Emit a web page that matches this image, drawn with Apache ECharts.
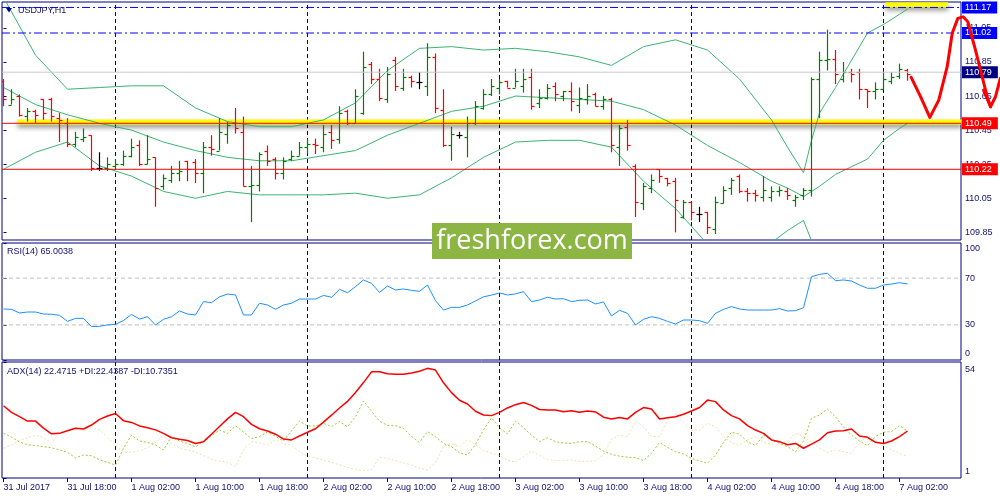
<!DOCTYPE html>
<html>
<head>
<meta charset="utf-8">
<title>USDJPY,H1</title>
<script src="https://cdn.jsdelivr.net/npm/echarts@6/dist/echarts.min.js"></script>
<style>
html,body{margin:0;padding:0;background:#fff}
#chart{width:1000px;height:500px}
</style>
</head>
<body>
<div id="chart"></div>
<script>
// hourly bars, index 0 = 31 Jul 10:00, last = 7 Aug 03:00
var open = [
110.74,110.60,110.65,110.53,110.56,110.63,110.63,110.52,110.49,110.37,
110.40,110.42,110.23,110.23,110.24,110.25,110.30,110.36,110.25,110.29,
110.12,110.16,110.20,110.27,110.26,110.20,110.35,110.33,110.43,110.49,
110.44,110.12,110.13,110.33,110.28,110.20,110.28,110.30,110.35,110.37,
110.35,110.44,110.40,110.56,110.49,110.55,110.84,110.75,110.63,110.86,
110.70,110.76,110.73,110.71,110.88,110.57,110.36,110.42,110.41,110.49,
110.58,110.66,110.70,110.74,110.70,110.71,110.76,110.61,110.64,110.71,
110.65,110.68,110.60,110.63,110.66,110.59,110.63,110.35,110.47,110.24,
110.02,110.11,110.22,110.17,110.15,109.94,110.03,109.96,109.97,109.87,
110.02,110.11,110.18,110.09,110.08,110.06,110.06,110.09,110.09,110.04,
110.07,110.10,110.75,110.86,110.87,110.75,110.79,110.79,110.69,110.68,
110.69,110.74,110.77,110.80];
var high = [
110.75,110.69,110.66,110.58,110.57,110.63,110.64,110.55,110.52,110.44,
110.46,110.42,110.32,110.29,110.28,110.33,110.40,110.39,110.42,110.29,
110.19,110.24,110.27,110.27,110.28,110.38,110.42,110.52,110.50,110.58,
110.53,110.24,110.32,110.36,110.29,110.29,110.33,110.38,110.40,110.40,
110.48,110.48,110.59,110.57,110.69,110.91,110.85,110.81,110.82,110.88,
110.81,110.77,110.79,110.96,110.90,110.69,110.47,110.44,110.53,110.62,
110.69,110.75,110.75,110.74,110.81,110.81,110.81,110.69,110.72,110.73,
110.68,110.73,110.70,110.72,110.67,110.65,110.64,110.48,110.51,110.25,
110.14,110.19,110.22,110.17,110.17,110.04,110.03,110.00,109.97,110.06,
110.12,110.17,110.19,110.11,110.10,110.18,110.12,110.12,110.11,110.07,
110.11,110.76,110.91,111.04,110.92,110.85,110.81,110.81,110.69,110.73,
110.79,110.79,110.84,110.81];
var low = [
110.59,110.60,110.53,110.50,110.49,110.51,110.50,110.38,110.35,110.35,
110.38,110.21,110.21,110.21,110.22,110.24,110.29,110.24,110.25,110.00,
110.10,110.14,110.15,110.15,110.14,110.08,110.30,110.33,110.37,110.43,
110.12,109.91,110.09,110.24,110.16,110.16,110.27,110.30,110.31,110.31,
110.32,110.34,110.37,110.48,110.49,110.54,110.72,110.62,110.61,110.68,
110.68,110.70,110.69,110.65,110.55,110.35,110.27,110.40,110.29,110.48,
110.57,110.65,110.66,110.70,110.70,110.67,110.57,110.58,110.63,110.62,
110.62,110.56,110.55,110.60,110.59,110.57,110.32,110.24,110.33,109.94,
109.98,110.08,110.14,110.12,109.85,109.93,109.92,109.91,109.84,109.84,
110.02,110.07,110.08,110.03,110.03,110.03,110.03,110.06,110.04,110.00,
110.04,110.06,110.52,110.80,110.72,110.73,110.73,110.63,110.58,110.63,
110.69,110.72,110.75,110.74];
var close = [
110.63,110.63,110.54,110.56,110.54,110.55,110.53,110.51,110.37,110.41,
110.41,110.23,110.23,110.25,110.25,110.30,110.35,110.25,110.28,110.11,
110.17,110.20,110.21,110.22,110.20,110.35,110.34,110.44,110.48,110.46,
110.12,110.13,110.31,110.27,110.20,110.27,110.30,110.35,110.37,110.36,
110.43,110.39,110.55,110.49,110.65,110.82,110.75,110.64,110.78,110.71,
110.76,110.74,110.73,110.88,110.58,110.36,110.43,110.42,110.49,110.59,
110.66,110.71,110.73,110.70,110.74,110.75,110.59,110.64,110.70,110.66,
110.68,110.62,110.64,110.65,110.59,110.63,110.36,110.46,110.36,110.03,
110.12,110.16,110.18,110.14,110.04,110.03,109.97,109.96,109.88,110.03,
110.10,110.16,110.09,110.08,110.07,110.10,110.09,110.10,110.07,110.06,
110.10,110.75,110.86,110.87,110.78,110.79,110.78,110.69,110.68,110.69,
110.75,110.76,110.81,110.78];

// Bollinger bands read at these bar indices
var bbIdx   = [0,4,8,12,16,20,24,28,32,36,40,44,48,52,56,60,64,68,72,76,80,84,88,92,96,98,100,101,102,104,108,110,112,113];
var bbUpper = [111.23,110.89,110.69,110.70,110.71,110.71,110.58,110.50,110.47,110.47,110.51,110.61,110.80,110.93,110.94,110.92,110.93,110.91,110.88,110.83,110.94,110.98,110.92,110.75,110.51,110.35,110.20,110.39,110.55,110.70,111.02,111.07,111.13,111.16];
var bbMid   = [110.70,110.60,110.54,110.49,110.45,110.38,110.33,110.29,110.27,110.27,110.30,110.33,110.42,110.49,110.56,110.59,110.65,110.64,110.63,110.62,110.57,110.48,110.36,110.26,110.15,110.11,110.06,110.09,110.12,110.19,110.28,110.39,110.46,110.49];
var bbLower = [110.22,110.32,110.38,110.24,110.18,110.09,110.05,110.09,110.07,110.07,110.07,110.08,110.05,110.07,110.17,110.29,110.38,110.39,110.39,110.35,110.15,109.99,109.78,109.76,109.79,109.86,109.92,109.80,109.69,109.68,109.54,109.71,109.79,109.79];

var rsi = [
43.6,43.3,40.2,41.0,41.0,39.3,39.1,38.2,33.0,35.6,
35.6,28.5,28.8,30.0,30.5,33.8,39.0,35.0,37.0,29.9,
34.8,37.0,41.9,39.3,38.5,49.9,49.0,54.0,56.4,55.6,
38.5,38.5,48.5,47.0,43.3,47.0,48.5,52.1,52.1,52.1,
55.2,53.6,60.4,57.5,62.7,68.4,65.5,57.8,63.2,59.8,
60.7,59.5,58.7,64.1,50.7,42.7,45.0,45.0,47.0,50.5,
54.0,55.5,57.3,55.6,56.5,58.4,49.9,51.3,53.6,52.1,
52.4,49.9,51.0,51.3,47.9,49.6,37.6,42.5,39.9,29.9,
34.8,37.0,35.6,33.0,30.8,34.2,34.2,33.6,31.3,39.9,
43.3,45.6,43.6,42.7,42.7,42.7,42.7,43.9,41.9,42.2,
44.7,71.2,73.2,74.1,67.8,68.4,67.5,64.1,61.3,61.3,
64.1,64.9,66.1,65.0];
var rsiLevels = [70,30];

var adx = [
34.0,31.0,29.0,27.0,27.0,23.8,21.2,21.4,22.6,23.7,
23.4,25.2,27.8,29.3,30.5,27.2,26.4,24.8,24.0,23.0,
21.4,19.4,18.7,18.1,16.8,17.6,21.0,24.5,28.0,31.0,
29.0,25.5,23.5,22.5,21.0,18.8,18.4,20.2,21.9,23.5,
26.5,29.7,33.0,36.0,40.1,44.6,49.5,49.5,48.6,48.4,
48.4,49.0,49.8,51.1,50.3,44.5,40.0,36.5,34.8,31.5,
29.8,29.5,31.0,33.0,34.5,35.5,34.2,32.3,32.1,32.1,
31.3,31.7,31.0,31.6,31.2,28.8,28.0,28.6,28.0,31.0,
33.2,32.5,28.0,28.5,29.0,30.1,31.6,33.2,36.6,35.9,
32.1,29.5,28.0,24.9,22.9,21.4,18.4,17.6,16.2,16.8,
14.6,16.5,18.4,21.7,22.5,22.6,23.4,20.2,19.6,17.3,
16.8,17.9,19.9,22.47];
var plusDI = [
21.4,19.7,17.4,16.2,15.8,15.3,14.8,13.9,12.7,10.2,
11.5,11.2,9.3,8.2,6.9,14.5,20.6,17.9,17.3,16.1,
13.8,19.8,17.9,16.8,15.3,17.6,20.3,22.9,21.4,24.8,
22.0,19.0,20.0,22.0,20.0,17.9,22.5,27.0,24.8,24.8,
26.0,24.5,26.8,24.4,29.0,36.2,31.5,27.0,25.0,24.9,
23.7,20.0,17.3,22.2,19.9,16.8,15.3,12.5,11.5,16.4,
22.9,28.5,24.0,21.1,27.0,24.0,20.6,17.6,19.4,17.6,
17.0,16.8,17.6,17.6,15.6,13.3,11.8,11.0,10.5,10.3,
9.0,12.3,17.2,15.0,13.0,12.0,10.0,8.8,7.7,11.5,
17.3,21.9,21.0,17.6,15.8,20.6,18.4,16.8,15.3,13.0,
17.9,28.3,29.8,32.5,29.0,24.4,20.6,17.9,15.8,19.9,
21.9,22.2,24.9,22.44];
var minusDI = [
14.6,16.1,18.2,19.3,20.6,19.5,16.8,22.0,22.5,24.0,
22.5,24.2,23.0,19.5,16.1,12.7,12.7,13.5,14.8,17.3,
20.0,17.0,14.5,13.8,12.7,11.3,9.5,8.8,8.2,6.2,
14.0,17.6,17.0,16.0,18.4,16.6,16.0,13.0,11.0,10.2,
9.0,8.2,7.0,5.8,5.0,4.4,4.7,10.5,9.8,9.0,
8.0,6.9,5.5,4.7,8.0,15.5,16.8,15.3,18.4,16.4,
13.6,12.3,11.3,9.2,8.3,10.7,13.3,11.3,9.5,9.0,
9.0,9.2,8.5,8.7,8.8,11.5,18.8,20.6,19.9,27.0,
24.4,20.0,19.9,27.5,30.1,26.7,22.9,22.9,26.0,24.4,
19.9,17.3,15.8,18.4,19.9,17.3,16.4,16.4,17.6,21.4,
19.9,17.3,14.6,12.7,13.8,13.0,12.3,17.3,20.6,17.6,
15.8,13.8,12.3,10.74];

// time axis
var tickIdx = [0,8,16,24,32,40,48,56,64,72,80,88,96,104,112];
var tickLabels = ['31 Jul 2017','31 Jul 18:00','1 Aug 02:00','1 Aug 10:00','1 Aug 18:00',
  '2 Aug 02:00','2 Aug 10:00','2 Aug 18:00','3 Aug 02:00','3 Aug 10:00','3 Aug 18:00',
  '4 Aug 02:00','4 Aug 10:00','4 Aug 18:00','7 Aug 02:00'];
var daySep = [14,38,62,86,110];
var priceTicks = [109.85,110.05,110.25,110.45,110.65,110.85,111.05];

// drawn objects
var levelBlue = [111.17,111.02];
var bidPrice = 110.79;
var levelRed = [110.49,110.22];
var zoneIdx = [1.75,119.75];
var zonePrice = 110.497;
var topZoneIdx = [110.25,118.1];
var topZonePrice = 111.186;
var annoIdx   = [113.46,114.63,115.79,116.91,117.96,118.59,119.29,119.96,120.54,121.5,122.34,122.96,123.38,124.0,124.6];
var annoPrice = [110.76,110.646,110.525,110.626,110.822,111.018,111.106,111.115,111.086,110.92,110.763,110.646,110.587,110.646,110.754];
var barbIdx   = [122.5,123.38];
var barbPrice = [110.685,110.587];

var FONT = 'Liberation Sans';
var NAVY = '#000080';
var TXT = '#101070';
// 8 px per hourly bar; bar centres land on pixel centres so thin lines stay crisp
var X_MIN = -0.1875, X_MAX = 119.6875;
var PRICE_MIN = 109.805, PRICE_MAX = 111.202;

function pairs(xs, ys) { return xs.map(function (x, k) { return [x, ys[k]]; }); }
function byIndex(arr) { return arr.map(function (v, i) { return [i, v]; }); }

// vertical day separators, as plain line series in a panel
function daySeries(axisIdx, lo, hi) {
    return daySep.map(function (d) {
        return {
            type: 'line', xAxisIndex: axisIdx, yAxisIndex: axisIdx, z: 1,
            data: [[d, lo], [d, hi]], showSymbol: false, silent: true,
            lineStyle: {color: NAVY, type: [4, 3], width: 1}
        };
    });
}
// horizontal level line across the price panel with its price box on the scale
function levelSeries(v, color, dash, box) {
    return {
        type: 'line', xAxisIndex: 0, yAxisIndex: 0, z: 4,
        data: [[X_MIN, v], [X_MAX, v]], showSymbol: false, silent: true,
        lineStyle: {color: color, type: dash, width: 1},
        endLabel: {
            show: true, distance: 1,
            formatter: v.toFixed(2), color: '#ffffff',
            backgroundColor: box, padding: [2, 6, 1, 3],
            fontFamily: FONT, fontSize: 9
        }
    };
}
function hLine(axisIdx, v, color, dash) {
    return {
        type: 'line', xAxisIndex: axisIdx, yAxisIndex: axisIdx, z: 1,
        data: [[X_MIN, v], [X_MAX, v]], showSymbol: false, silent: true,
        lineStyle: {color: color, type: dash, width: 1}
    };
}

function renderBar(params, api) {
    var i = api.value(0), o = api.value(1), h = api.value(2), l = api.value(3), c = api.value(4);
    var x = Math.floor(api.coord([i, h])[0]) + 0.5;
    var yh = api.coord([i, h])[1], yl = api.coord([i, l])[1];
    var yo = Math.round(api.coord([i, o])[1]) + 0.5, yc = Math.round(api.coord([i, c])[1]) + 0.5;
    var color = c > o ? '#008000' : (c < o ? '#ff0000' : '#000000');
    var st = {stroke: color, lineWidth: 1.2};
    return {
        type: 'group',
        children: [
            {type: 'line', shape: {x1: x, y1: yh, x2: x, y2: yl}, style: st},
            {type: 'line', shape: {x1: x - 3, y1: yo, x2: x, y2: yo}, style: st},
            {type: 'line', shape: {x1: x, y1: yc, x2: x + 3, y2: yc}, style: st}
        ]
    };
}

var xBase = {type: 'value', min: X_MIN, max: X_MAX,
    axisLine: {show: false}, axisTick: {show: false}, axisLabel: {show: false}, splitLine: {show: false}};
var gridBase = {left: 2, width: 959, show: true, borderColor: NAVY, borderWidth: 1,
    backgroundColor: '#ffffff', outerBoundsMode: 'none', containLabel: false};
var labelBase = {color: TXT, fontFamily: FONT, fontSize: 9, margin: 4};

var staticGraphic = [
    {id: 'tri', type: 'polygon', z: 20, shape: {points: [[6, 8], [12, 8], [9, 12.5]]}, style: {fill: NAVY}},
    {id: 'ttl', type: 'text', z: 20, x: 18, y: 11, style: {text: 'USDJPY,H1', fill: TXT, font: '9px "Liberation Sans"', verticalAlign: 'middle'}},
    {id: 'rsiTxt', type: 'text', z: 20, x: 7, y: 252, style: {text: 'RSI(14) 65.0038', fill: TXT, font: '9px "Liberation Sans"', verticalAlign: 'middle'}},
    {id: 'adxTxt', type: 'text', z: 20, x: 7, y: 372, style: {text: 'ADX(14) 22.4715 +DI:22.4387 -DI:10.7351', fill: TXT, font: '9px "Liberation Sans"', verticalAlign: 'middle'}},
    {id: 'wmBox', type: 'rect', z: 30, shape: {x: 432, y: 223, width: 200, height: 36}, style: {fill: '#8db543'}},
    {id: 'wmTxt', type: 'text', z: 31, x: 532, y: 241, style: {text: 'freshforex.com', fill: '#ffffff', font: '27px "Open Sans"', align: 'center', verticalAlign: 'middle'}}
];

var series = [].concat(
    daySeries(0, PRICE_MIN, PRICE_MAX),
    daySeries(1, 0, 100),
    daySeries(2, 1, 54),
    [
        {   // yellow highlight zone at 110.49
            type: 'line', xAxisIndex: 0, yAxisIndex: 0, z: 1,
            data: pairs(zoneIdx, [zonePrice, zonePrice]), showSymbol: false, silent: true,
            lineStyle: {color: '#ffff00', width: 5, shadowColor: 'rgba(0,0,0,0.45)', shadowBlur: 5, shadowOffsetY: 3}
        },
        {   // yellow highlight zone at top
            type: 'line', xAxisIndex: 0, yAxisIndex: 0, z: 1,
            data: pairs(topZoneIdx, [topZonePrice, topZonePrice]), showSymbol: false, silent: true,
            lineStyle: {color: '#ffff00', width: 5, shadowColor: 'rgba(0,0,0,0.45)', shadowBlur: 5, shadowOffsetY: 3}
        },
        levelSeries(levelBlue[0], '#0000ff', [8, 3, 2, 3], '#0000ff'),
        levelSeries(levelBlue[1], '#0000ff', [8, 3, 2, 3], '#0000ff'),
        levelSeries(bidPrice, '#c8c8c8', 'solid', NAVY),
        levelSeries(levelRed[0], '#ff0000', 'solid', '#ff0000'),
        levelSeries(levelRed[1], '#ff0000', 'solid', '#ff0000'),
        {
            name: 'BB upper', type: 'line', xAxisIndex: 0, yAxisIndex: 0, z: 2,
            data: pairs(bbIdx, bbUpper), showSymbol: false, silent: true,
            lineStyle: {color: '#3cb371', width: 1}
        },
        {
            name: 'BB middle', type: 'line', xAxisIndex: 0, yAxisIndex: 0, z: 2,
            data: pairs(bbIdx, bbMid), showSymbol: false, silent: true,
            lineStyle: {color: '#3cb371', width: 1}
        },
        {
            name: 'BB lower', type: 'line', xAxisIndex: 0, yAxisIndex: 0, z: 2,
            data: pairs(bbIdx, bbLower), showSymbol: false, silent: true,
            lineStyle: {color: '#3cb371', width: 1}
        },
        {
            name: 'USDJPY', type: 'custom', xAxisIndex: 0, yAxisIndex: 0, z: 3,
            renderItem: renderBar, clip: true,
            encode: {x: 0, y: [1, 2, 3, 4]},
            data: open.map(function (o, i) { return [i, o, high[i], low[i], close[i]]; })
        },
        hLine(1, rsiLevels[0], '#c0c0c0', [4, 3]),
        hLine(1, rsiLevels[1], '#c0c0c0', [4, 3]),
        {
            name: 'RSI(14)', type: 'line', xAxisIndex: 1, yAxisIndex: 1, z: 3,
            data: byIndex(rsi), showSymbol: false, silent: true,
            lineStyle: {color: '#1e90ff', width: 1}
        },
        {
            name: '-DI', type: 'line', xAxisIndex: 2, yAxisIndex: 2, z: 2,
            data: byIndex(minusDI), showSymbol: false, silent: true,
            lineStyle: {color: '#f5deb3', width: 1, type: [2, 2]}
        },
        {
            name: '+DI', type: 'line', xAxisIndex: 2, yAxisIndex: 2, z: 3,
            data: byIndex(plusDI), showSymbol: false, silent: true,
            lineStyle: {color: '#9acd32', width: 1, type: [2, 2]}
        },
        {
            name: 'ADX', type: 'line', xAxisIndex: 2, yAxisIndex: 2, z: 4,
            data: byIndex(adx), showSymbol: false, silent: true,
            lineStyle: {color: '#ff0000', width: 1.5}
        }
    ]
);

var option = {
    animation: false,
    backgroundColor: '#ffffff',
    textStyle: {fontFamily: FONT},
    grid: [
        Object.assign({top: 2, height: 238}, gridBase),
        Object.assign({top: 243, height: 117}, gridBase),
        Object.assign({top: 362, height: 116}, gridBase)
    ],
    xAxis: [
        Object.assign({gridIndex: 0}, xBase),
        Object.assign({gridIndex: 1}, xBase),
        Object.assign({}, xBase, {
            gridIndex: 2,
            axisTick: {show: true, customValues: tickIdx, length: 4, lineStyle: {color: NAVY}},
            axisLabel: Object.assign({}, labelBase, {
                show: true, customValues: tickIdx, align: 'left', margin: 5,
                formatter: function (v) { return tickLabels[tickIdx.indexOf(v)] || ''; }
            })
        })
    ],
    yAxis: [
        {
            gridIndex: 0, type: 'value', position: 'right', min: PRICE_MIN, max: PRICE_MAX,
            axisLine: {show: false}, splitLine: {show: false},
            axisTick: {show: true, customValues: priceTicks, length: 3, lineStyle: {color: NAVY}},
            axisLabel: Object.assign({}, labelBase, {
                customValues: priceTicks,
                formatter: function (v) { return v.toFixed(2); }
            })
        },
        {
            gridIndex: 1, type: 'value', position: 'right', min: 0, max: 100,
            axisLine: {show: false}, splitLine: {show: false},
            axisTick: {show: true, customValues: [0, 30, 70, 100], length: 3, lineStyle: {color: NAVY}},
            axisLabel: Object.assign({}, labelBase, {
                customValues: [0, 30, 70, 100],
                formatter: function (v) {
                    if (v === 100) return '{t|100}';
                    if (v === 0) return '{b|0}';
                    return String(v);
                },
                rich: {t: {padding: [12, 0, 0, 0]}, b: {padding: [0, 0, 13, 0]}}
            })
        },
        {
            gridIndex: 2, type: 'value', position: 'right', min: 1, max: 54,
            axisLine: {show: false}, splitLine: {show: false},
            axisTick: {show: true, customValues: [1, 54], length: 3, lineStyle: {color: NAVY}},
            axisLabel: Object.assign({}, labelBase, {
                customValues: [1, 54],
                formatter: function (v) { return v === 54 ? '{t|54}' : '{b|1}'; },
                rich: {t: {padding: [16, 0, 0, 0]}, b: {padding: [0, 0, 12, 0]}}
            })
        }
    ],
    series: series,
    graphic: staticGraphic
};

var chart = echarts.init(document.getElementById('chart'), null, {renderer: 'canvas'});
chart.setOption(option);

// hand drawn forecast arrow runs past the price scale, so place it through the axes afterwards
function toPx(xs, ys) {
    return xs.map(function (x, k) {
        return chart.convertToPixel({xAxisIndex: 0, yAxisIndex: 0}, [x, ys[k]]);
    });
}
var arrowStyle = {stroke: '#ff0000', lineWidth: 3, lineJoin: 'round', lineCap: 'round', fill: null};
chart.setOption({
    graphic: staticGraphic.concat([
        {id: 'anno', type: 'polyline', z: 40, shape: {points: toPx(annoIdx, annoPrice)}, style: arrowStyle},
        {id: 'barb', type: 'polyline', z: 40, shape: {points: toPx(barbIdx, barbPrice)}, style: arrowStyle}
    ])
});
</script>
</body>
</html>
